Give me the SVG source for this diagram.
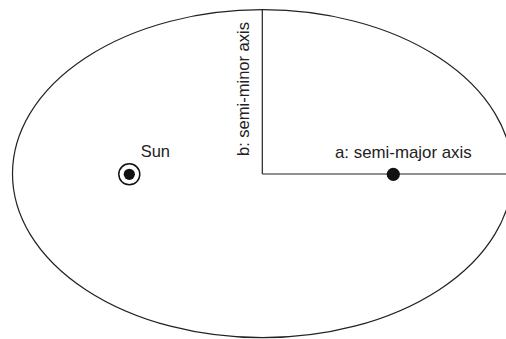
<svg xmlns="http://www.w3.org/2000/svg" width="506" height="339" viewBox="0 0 506 339">
<style>
.ln{fill:none;stroke:#222;stroke-width:1.2}
.t{font-family:"Liberation Sans",Arial,sans-serif;font-size:17px;fill:#222}
</style>
<rect width="506" height="339" fill="#fff"/>
<g id="orbit"><ellipse class="ln" cx="262.5" cy="173.7" rx="250" ry="164"/></g>
<g id="connectors">
<line class="ln" x1="262.3" y1="9.7" x2="262.3" y2="174"/>
<line class="ln" x1="262.3" y1="174" x2="507" y2="174"/>
</g>
<g id="sun">
<circle cx="129.3" cy="174.3" r="10.5" fill="none" stroke="#111" stroke-width="1.5"/>
<circle cx="129.3" cy="174.3" r="5.6" fill="#111"/>
<text class="t" x="140.7" y="157" textLength="29.3" lengthAdjust="spacingAndGlyphs">Sun</text>
</g>
<g id="planet"><circle cx="393.3" cy="174.3" r="6.6" fill="#111"/></g>
<g id="label-a"><text class="t" x="335" y="158" textLength="136.7" lengthAdjust="spacingAndGlyphs">a: semi-major axis</text></g>
<g id="label-b"><text class="t" transform="translate(249,156) rotate(-90)" x="0" y="0" textLength="134" lengthAdjust="spacingAndGlyphs">b: semi-minor axis</text></g>
</svg>
